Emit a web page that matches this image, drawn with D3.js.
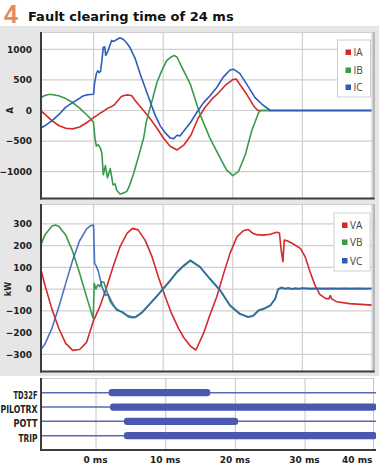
<!DOCTYPE html>
<html><head><meta charset="utf-8">
<script src="https://cdn.jsdelivr.net/npm/d3@7"></script>
<style>body{margin:0;background:#fff}svg{display:block}</style>
</head><body>
<script>
// ---------- DATA ----------
const xTicks = [0, 10, 20, 30, 40];
const xTickLabels = ["0 ms", "10 ms", "20 ms", "30 ms", "40 ms"];
const currentTicks = [-1000, -500, 0, 500, 1000];
const voltageTicks = [-300, -200, -100, 0, 100, 200, 300];
const currentNames = ["IA", "IB", "IC"];
const voltageNames = ["VA", "VB", "VC"];

// Currents (A)
const tIA = [-7.5,-7,-6,-5,-4,-3,-2,-1,0,0.5,1,1.5,2,2.5,3,3.5,4,4.5,5,5.5,6,7,8,9,10,11,12,13,14,15,16,17,18,19,20,20.5,21,22,23,23.6,24,26,30,35,40.5];
const IA  = [-10,-60,-165,-245,-290,-300,-270,-200,-115,-80,-40,-5,35,60,95,165,230,250,255,240,160,25,-115,-270,-445,-585,-645,-560,-400,-130,50,185,295,420,505,515,430,265,75,0,0,0,0,0,0];

const tIB = [-7.5,-7,-6.3,-5,-4,-3,-2,-1,-0.3,0,0.2,0.4,0.7,1.0,1.2,1.4,1.7,2.0,2.4,2.8,3.1,3.3,3.8,4.3,4.8,5.2,5.7,6.4,7.2,7.6,8.4,9.1,9.8,10.5,11.2,11.6,12,12.7,13.9,15.3,16.7,18.2,19.1,20,20.8,21.8,22.7,23.7,24,26,30,35,40.5];
const IB  = [211,245,266,240,195,130,40,-70,-150,-200,-450,-580,-560,-620,-700,-1050,-900,-1100,-950,-1215,-1200,-1300,-1365,-1350,-1320,-1215,-1050,-777,-447,-173,157,458,651,815,880,900,870,705,431,-63,-447,-777,-970,-1063,-1000,-722,-338,-36,0,0,0,0,0];

const tIC = [-7.5,-7,-6,-5,-4,-3,-2,-1.5,-1,-0.5,0,0.15,0.4,0.6,0.8,1.0,1.2,1.4,1.6,1.75,2.1,2.3,2.6,2.9,3.3,3.8,4.3,4.8,5.2,6.0,6.7,7.4,8.1,8.8,9.6,10.3,11.0,11.5,12.0,12.4,13.0,13.9,14.8,15.8,16.7,17.7,18.6,19.6,20.1,21,22,23.2,24.2,25.4,26,30,35,40.5];
const IC  = [-283,-250,-170,-68,55,129,200,238,255,262,265,450,600,650,620,640,815,1035,1040,900,980,1050,1145,1130,1156,1190,1160,1100,1035,843,596,376,157,-63,-255,-365,-447,-460,-404,-415,-330,-200,-36,129,238,376,541,662,675,606,431,211,102,0,0,0,0,0];

// Voltages (kW)
const tVA = [-7.6,-7,-6,-5,-4,-3,-2,-1,0,0.9,1.9,2.8,3.8,4.8,5.6,6.4,7.4,8.4,9.3,10.3,11.2,12.2,13,14,14.7,15.8,16.7,17.7,18.7,19.6,20.6,21.5,22.2,22.9,23.4,24.4,25.4,26.3,26.7,26.95,27.2,27.4,27.8,28.7,29.7,30.4,31.1,31.8,32.5,33.3,33.8,34.0,34.2,34.9,36.8,40.5];
const VA  = [95,20,-90,-180,-250,-282,-278,-245,-145,-81,11,103,194,256,279,272,225,149,57,-35,-112,-181,-225,-265,-280,-204,-120,-35,72,164,240,268,274,256,250,248,252,261,258,180,126,225,222,207,187,149,80,18,-24,-43,-45,-30,-45,-58,-67,-75];

const tVB = [-7.6,-7,-6,-5.5,-5,-4,-3,-2,-1,-0.05,0.1,0.35,0.6,0.9,1.2,1.5,1.9,2.4,2.9,3.3,3.6,4.3,5.0,5.5,6.0,7,8.1,9,10,11,12,13,13.9,15.3,16.7,18.2,19.6,21,22.2,22.9,23.7,24.4,25.4,26.1,26.5,27,27.5,28,28.5,29,29.5,30,31,32,33,34,35,36,37,38,39,40.5];
const VB  = [200,248,289,294,289,248,173,73,-36,-135,26,0,20,11,34,30,-10,-58,-80,-90,-97,-112,-128,-132,-131,-108,-69,-38,0,37,77,107,130,100,46,-8,-77,-115,-130,-125,-100,-93,-77,-46,-3,5,0,3,-1,2,0,3,1,2,1,2,1,2,1,2,1,2];

const tVC = [-7.6,-7,-6,-5,-4,-3,-2,-1,-0.4,0,0.15,0.4,0.7,1.2,1.7,2.1,2.6,3.3,4.1,4.8,5.5,6.0,7,8.1,9,10,11,12,13,13.9,15.3,16.7,18.2,19.6,21,22.2,22.9,23.7,24.4,25.4,26.1,26.5,27,27.5,28,28.5,29,29.5,30,31,32,33,34,35,36,37,38,39,40.5];
const VC  = [-280,-254,-182,-84,26,132,222,277,292,294,118,105,80,11,-28,-25,-58,-97,-104,-120,-127,-128,-105,-66,-35,3,40,80,110,133,103,49,-5,-74,-112,-127,-122,-97,-90,-74,-43,0,8,2,6,1,5,2,5,3,4,3,4,3,4,3,4,3,4];

// Digital elements (ms): start, end
const digitalNames = ["TD32F", "PILOTRX", "POTT", "TRIP"];
const digitalStart = [1.8, 2.0, 4.0, 4.0];
const digitalEnd   = [16.4, 40.3, 20.4, 40.3];

// ---------- DRAW ----------
const W = 379, H = 469;
const svg = d3.select("body").append("svg").attr("width", W).attr("height", H);
const col = {red: "#d42a2c", green: "#3a9a4a", blue: "#2e5cb8", dig: "#4a58ad"};
const fontAxis = "'DejaVu Sans', Verdana, sans-serif";

svg.append("rect").attr("width", W).attr("height", H).attr("fill", "#fff");
svg.append("rect").attr("x", 0).attr("y", 26).attr("width", W).attr("height", 350).attr("fill", "#e6e6e6");

// title
svg.append("text").attr("x", 4).attr("y", 23).text("4")
  .attr("font-family", "'Liberation Sans', Arial, sans-serif").attr("font-weight", "bold")
  .attr("font-size", 25).attr("fill", "#e58a5f");
svg.append("text").attr("x", 28).attr("y", 20.5).text("Fault clearing time of 24 ms")
  .attr("font-family", fontAxis).attr("font-weight", "bold").attr("font-size", 13).attr("fill", "#111");

const x12 = d3.scaleLinear().domain([-7.55, 40]).range([41, 372]);
const x3 = d3.scaleLinear().domain([-7.9, 40]).range([41, 374.7]);

function panel(id, top, bottom, yDomain, ticks, unit, series) {
  const left = 41, right = 372;
  const y = d3.scaleLinear().domain(yDomain).range([bottom, top]);
  svg.append("rect").attr("x", left).attr("y", top).attr("width", right - left).attr("height", bottom - top).attr("fill", "#fff");
  const g = svg.append("g");
  g.selectAll(".hg").data(ticks).join("line")
    .attr("x1", left).attr("x2", right).attr("y1", d => y(d)).attr("y2", d => y(d))
    .attr("stroke", "#cfcfcf").attr("stroke-width", 1.2);
  g.selectAll(".vg").data(xTicks.slice(0, 4)).join("line")
    .attr("x1", d => x12(d)).attr("x2", d => x12(d)).attr("y1", top).attr("y2", bottom)
    .attr("stroke", "#cfcfcf").attr("stroke-width", 1.2);
  g.append("line").attr("x1", left).attr("x2", right).attr("y1", top + 0.5).attr("y2", top + 0.5).attr("stroke", "#cfcfcf");
  const ax = svg.append("g").attr("transform", `translate(${left},0)`)
    .call(d3.axisLeft(y).tickValues(ticks).tickSize(0).tickPadding(9).tickFormat(d3.format("d")));
  ax.select(".domain").remove();
  ax.selectAll("text").attr("font-family", fontAxis).attr("font-weight", "bold").attr("font-size", 9).attr("fill", "#222");
  svg.append("text").attr("transform", `translate(${unit === "A" ? 12.5 : 10.5},${y(0)}) rotate(-90)`)
    .attr("text-anchor", "middle").attr("font-family", fontAxis).attr("font-weight", "bold")
    .attr("font-size", 8).attr("fill", "#222").text(unit);
  svg.append("clipPath").attr("id", id).append("rect").attr("x", left).attr("y", top).attr("width", right - left).attr("height", bottom - top);
  const line = d3.line().x(d => x12(d[0])).y(d => y(d[1]));
  const lg = svg.append("g").attr("clip-path", `url(#${id})`);
  series.forEach(s => {
    lg.append("path").attr("d", line(d3.zip(s.t, s.v))).attr("fill", "none")
      .attr("stroke", s.c).attr("stroke-width", 1.6).attr("stroke-linejoin", "round")
      .attr("stroke-opacity", s.o || 1);
  });
  svg.append("line").attr("x1", right).attr("x2", right).attr("y1", top).attr("y2", bottom).attr("stroke", "#c4c4c4").attr("stroke-width", 1);
  svg.append("line").attr("x1", right + 2).attr("x2", right + 2).attr("y1", top).attr("y2", bottom + 1).attr("stroke", "#8a8a8a").attr("stroke-width", 1);
  svg.append("line").attr("x1", left).attr("x2", left).attr("y1", top).attr("y2", bottom + 1).attr("stroke", "#3c3c3c").attr("stroke-width", 2);
  svg.append("line").attr("x1", left - 1).attr("x2", right + 2.5).attr("y1", bottom).attr("y2", bottom).attr("stroke", "#3c3c3c").attr("stroke-width", 2);
  return y;
}

panel("c1", 32, 198.5, [-1438, 1283], currentTicks, "A",
  [{t: tIA, v: IA, c: col.red}, {t: tIB, v: IB, c: col.green}, {t: tIC, v: IC, c: col.blue}]);
panel("c2", 204, 371.5, [-379, 391], voltageTicks, "kW",
  [{t: tVA, v: VA, c: col.red}, {t: tVB, v: VB, c: col.green}, {t: tVC, v: VC, c: col.blue, o: 0.85}]);

function legend(x0, y0, w, h, names, ys) {
  svg.append("rect").attr("x", x0).attr("y", y0).attr("width", w).attr("height", h)
    .attr("fill", "#fff").attr("stroke", "#cfcfcf").attr("stroke-width", 1);
  const cs = [col.red, col.green, col.blue];
  names.forEach((n, i) => {
    svg.append("rect").attr("x", x0 + 8).attr("y", ys[i] - 3).attr("width", 5.5).attr("height", 5.5).attr("fill", cs[i]);
    svg.append("text").attr("x", x0 + 16).attr("y", ys[i] + 3.5).text(n)
      .attr("font-family", "'Open Sans', sans-serif").attr("font-size", 10).attr("fill", "#444");
  });
}
legend(337.5, 40, 33, 57, currentNames, [52.5, 70.5, 87.5]);
legend(334, 213, 36, 58, voltageNames, [225.5, 242.5, 261]);

// ---------- digital panel ----------
const top3 = 378, bot3 = 450, left3 = 41, right3 = 373.5;
const yd = d3.scalePoint().domain(digitalNames).range([392.7, 435.7]);
svg.append("rect").attr("x", left3).attr("y", top3).attr("width", right3 - left3).attr("height", bot3 - top3).attr("fill", "#fff");
svg.selectAll(".dg").data(xTicks.slice(0, 4)).join("line")
  .attr("x1", d => x3(d)).attr("x2", d => x3(d)).attr("y1", top3).attr("y2", bot3)
  .attr("stroke", "#cfcfcf").attr("stroke-width", 1.2);
svg.append("line").attr("x1", left3).attr("x2", right3).attr("y1", top3 + 0.5).attr("y2", top3 + 0.5).attr("stroke", "#cfcfcf");
svg.append("line").attr("x1", right3).attr("x2", right3).attr("y1", top3).attr("y2", bot3).attr("stroke", "#c4c4c4");
svg.selectAll(".row").data(digitalNames).join("line")
  .attr("x1", left3).attr("x2", 376).attr("y1", d => yd(d)).attr("y2", d => yd(d))
  .attr("stroke", "#5b68b6").attr("stroke-width", 1.5);
svg.append("clipPath").attr("id", "c3").append("rect").attr("x", left3).attr("y", top3).attr("width", 376 - left3).attr("height", bot3 - top3);
svg.append("g").attr("clip-path", "url(#c3)").selectAll("rect").data(digitalNames).join("rect")
  .attr("x", (d, i) => x3(digitalStart[i])).attr("width", (d, i) => x3(digitalEnd[i]) - x3(digitalStart[i]))
  .attr("y", d => yd(d) - 3.6).attr("height", 7.2).attr("rx", 3.2).attr("fill", col.dig);
const rowLen = {TD32F: 24, PILOTRX: 37, POTT: 24, TRIP: 19};
svg.selectAll(".rl").data(digitalNames).join("text")
  .attr("x", 37.5).attr("y", d => yd(d) + 6).attr("text-anchor", "end").text(d => d)
  .attr("textLength", d => rowLen[d]).attr("lengthAdjust", "spacingAndGlyphs")
  .attr("font-family", fontAxis).attr("font-weight", "bold").attr("font-size", 10.5).attr("fill", "#222");
svg.append("line").attr("x1", left3).attr("x2", left3).attr("y1", top3).attr("y2", bot3 + 1).attr("stroke", "#3c3c3c").attr("stroke-width", 2);
svg.append("line").attr("x1", left3 - 1).attr("x2", 376).attr("y1", bot3).attr("y2", bot3).attr("stroke", "#3c3c3c").attr("stroke-width", 2);

const xa = svg.append("g").attr("transform", `translate(0,${bot3})`)
  .call(d3.axisBottom(x3).tickValues(xTicks).tickSize(0).tickPadding(7).tickFormat((d, i) => xTickLabels[i]));
xa.select(".domain").remove();
xa.selectAll("text").attr("font-family", fontAxis).attr("font-weight", "bold").attr("font-size", 9).attr("fill", "#222")
  .attr("dx", d => d === 40 ? -18 : -1);
</script>
</body></html>
